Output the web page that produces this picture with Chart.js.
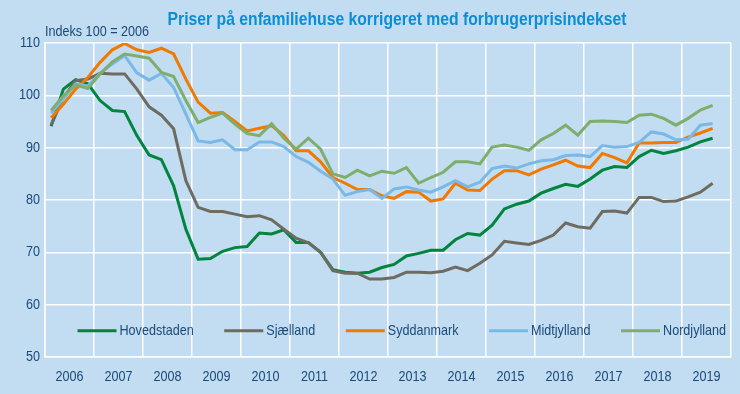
<!DOCTYPE html>
<html lang="da">
<head>
<meta charset="utf-8">
<script src="https://cdn.jsdelivr.net/npm/chart.js@4.4.1/dist/chart.umd.min.js"></script>
<style>
  html, body { margin: 0; padding: 0; background: #c2dcf2; }
  #wrap { width: 740px; height: 394px; }
</style>
</head>
<body>
<div id="wrap"><canvas id="chart" width="740" height="394"></canvas></div>
<script>
// kvartalsdata 2006K1 - 2019K3, indeks 100 = 2006
const years = ['2006', '2007', '2008', '2009', '2010', '2011', '2012',
  '2013', '2014', '2015', '2016', '2017', '2018', '2019'];

const hovedstaden = [94.1, 101.2, 103.0, 102.2, 99.0, 97.1, 96.9, 92.3, 88.6, 87.7, 82.7,
  74.4, 68.7, 68.8, 70.2, 70.9, 71.1, 73.7, 73.5, 74.3, 71.9,
  71.9, 70.0, 66.7, 66.2, 66.0, 66.2, 67.1, 67.7, 69.3, 69.8,
  70.4, 70.4, 72.4, 73.6, 73.3, 75.2, 78.3, 79.2, 79.8, 81.3,
  82.2, 83.0, 82.6, 84.0, 85.7, 86.4, 86.2, 88.3, 89.5, 88.9,
  89.4, 90.1, 91.1, 91.8];

const sjaelland = [94.3, 99.6, 102.8, 103.1, 104.2, 104.1, 104.1, 101.2, 97.8, 96.2, 93.6,
  83.7, 78.6, 77.8, 77.8, 77.3, 76.8, 77.0, 76.2, 74.4, 72.7,
  71.8, 70.0, 66.5, 66.0, 66.0, 64.9, 64.9, 65.2, 66.2, 66.2,
  66.1, 66.4, 67.2, 66.5, 67.9, 69.5, 72.1, 71.8, 71.5, 72.3,
  73.3, 75.6, 74.9, 74.6, 77.8, 77.9, 77.5, 80.5, 80.5, 79.7,
  79.8, 80.6, 81.5, 83.2];

const syddanmark = [95.7, 98.3, 101.2, 103.4, 106.3, 108.7, 109.9, 108.7, 108.2, 109.0, 107.9,
  103.1, 98.7, 96.6, 96.7, 95.0, 93.2, 93.7, 94.2, 92.3, 89.4,
  89.4, 87.3, 84.3, 83.2, 82.0, 82.0, 80.8, 80.3, 81.6, 81.5,
  79.8, 80.2, 83.2, 81.9, 81.8, 84.0, 85.6, 85.6, 84.8, 85.9,
  86.7, 87.6, 86.5, 86.2, 88.9, 88.1, 87.1, 90.9, 90.9, 91.0,
  91.0, 92.0, 92.8, 93.7];

const midtjylland = [96.6, 99.3, 102.2, 101.8, 104.2, 106.0, 107.6, 104.3, 102.9, 104.2, 101.5,
  96.4, 91.3, 91.0, 91.5, 89.6, 89.6, 91.1, 91.1, 90.2, 88.3,
  87.2, 85.5, 84.0, 80.9, 81.6, 82.0, 80.3, 82.1, 82.5, 81.9,
  81.5, 82.5, 83.7, 82.5, 83.4, 86.0, 86.5, 86.1, 86.9, 87.5,
  87.7, 88.5, 88.6, 88.3, 90.4, 90.1, 90.2, 91.0, 93.0, 92.6,
  91.5, 91.6, 94.3, 94.6];

const nordjylland = [97.1, 99.9, 102.0, 101.3, 104.1, 106.4, 107.9, 107.5, 107.1, 104.4, 103.6,
  99.0, 94.8, 95.8, 96.6, 94.5, 92.7, 92.3, 94.6, 91.8, 89.7,
  91.8, 89.7, 85.0, 84.3, 85.7, 84.6, 85.5, 85.1, 86.2, 83.2,
  84.3, 85.3, 87.3, 87.3, 86.9, 90.1, 90.5, 90.1, 89.5, 91.5,
  92.7, 94.3, 92.4, 95.0, 95.1, 95.0, 94.8, 96.2, 96.4, 95.6,
  94.3, 95.6, 97.2, 98.1];

const yTicks = [50, 60, 70, 80, 90, 100, 110];

const seriesNames = ['Hovedstaden', 'Sjælland', 'Syddanmark', 'Midtjylland', 'Nordjylland'];
const seriesValues = [hovedstaden, sjaelland, syddanmark, midtjylland, nordjylland];
const seriesColors = ['#00843e', '#6e6c60', '#f07a00', '#7ab8e6', '#7fae6c'];

// ingen Arial Narrow her - tegn Liberation Sans smallere
const FONT = "'Liberation Sans', Arial, sans-serif";
const SX = 0.84;
const TEXT = '#1b4a78';
const GRID = '#ffffff';

function narrowText(ctx, text, x, y, font, color, align, sx = SX) {
  ctx.save();
  ctx.font = font;
  ctx.fillStyle = color;
  ctx.textBaseline = 'middle';
  ctx.textAlign = 'left';
  const w = ctx.measureText(text).width * sx;
  let x0 = x;
  if (align === 'center') x0 = x - w / 2;
  if (align === 'right') x0 = x - w;
  ctx.translate(x0, y);
  ctx.scale(sx, 1);
  ctx.fillText(text, 0, 0);
  ctx.restore();
  return w;
}

// titel, tekst og aksetal
const labels = {
  id: 'labels',
  afterDraw(chart) {
    const ctx = chart.ctx;
    const area = chart.chartArea;
    const sx = chart.scales.x, sy = chart.scales.y;
    narrowText(ctx, 'Priser på enfamiliehuse korrigeret med forbrugerprisindekset',
      397, 20, 'bold 18.5px ' + FONT, '#0b8ed6', 'center', 0.85);
    narrowText(ctx, 'Indeks 100 = 2006', area.left, 32, '15px ' + FONT, TEXT, 'left');
    yTicks.forEach((v) => {
      narrowText(ctx, String(v), area.left - 5, sy.getPixelForValue(v), '15px ' + FONT, TEXT, 'right');
    });
    years.forEach((yr, k) => {
      narrowText(ctx, yr, sx.getPixelForValue(k * 4 + 2), area.bottom + 20, '15px ' + FONT, TEXT, 'center');
    });
  }
};

// forklaring inde i plotområdet
const innerLegend = {
  id: 'innerLegend',
  afterDraw(chart) {
    const ctx = chart.ctx;
    const area = chart.chartArea;
    const y = chart.scales.y.getPixelForValue(55);
    let x = area.left + 32.5;
    chart.data.datasets.forEach((ds) => {
      ctx.save();
      ctx.strokeStyle = ds.borderColor;
      ctx.lineWidth = 3;
      ctx.beginPath();
      ctx.moveTo(x, y);
      ctx.lineTo(x + 39, y);
      ctx.stroke();
      ctx.restore();
      const w = narrowText(ctx, ds.label, x + 42, y, '15px ' + FONT, TEXT, 'left');
      x += 42 + w + 30.5;
    });
  }
};

const datasets = seriesNames.map((name, i) => ({
  label: name,
  data: seriesValues[i].map((v, q) => ({ x: q + 0.5, y: v })),
  borderColor: seriesColors[i],
  backgroundColor: seriesColors[i],
  borderWidth: 3,
  pointRadius: 0,
  tension: 0,
  order: seriesNames.length - i
}));

new Chart(document.getElementById('chart'), {
  type: 'line',
  data: { datasets },
  plugins: [labels, innerLegend],
  options: {
    responsive: false,
    animation: false,
    devicePixelRatio: 1,
    layout: { padding: { top: 43, right: 9, left: 0, bottom: 0 } },
    plugins: {
      legend: { display: false },
      title: { display: false },
      tooltip: { enabled: false }
    },
    scales: {
      x: {
        type: 'linear',
        min: 0,
        max: years.length * 4,
        afterFit(scale) { scale.height = 37; },
        afterBuildTicks(scale) {
          const t = [];
          for (let v = 0; v <= years.length * 4; v += 4) t.push({ value: v });
          scale.ticks = t;
        },
        grid: { color: GRID, lineWidth: 1.5, drawTicks: false },
        border: { color: GRID, width: 1.5 },
        ticks: { display: false }
      },
      y: {
        min: 50,
        max: 110,
        afterFit(scale) { scale.width = 45; },
        grid: { color: GRID, lineWidth: 1.5, drawTicks: false },
        border: { color: GRID, width: 1.5 },
        ticks: { display: false, stepSize: 10 }
      }
    }
  }
});
</script>
</body>
</html>
